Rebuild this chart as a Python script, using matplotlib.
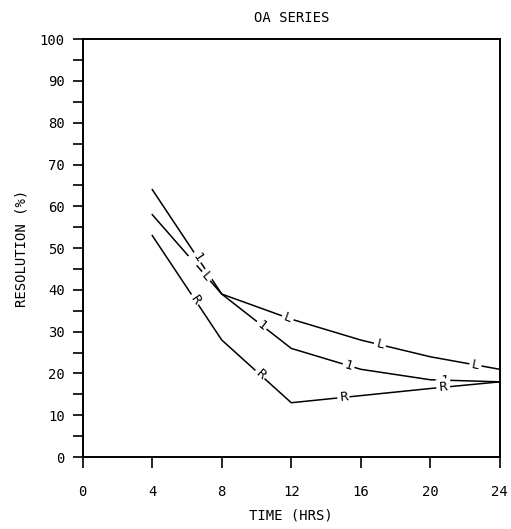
import numpy as np
import matplotlib.pyplot as plt
from matplotlib.ticker import MultipleLocator

plt.rcParams['font.family'] = ['DejaVu Sans Mono']

# data
hours = [4, 8, 12, 16, 20, 24]
series_1 = [64, 39, 26, 21, 18.5, 18]
series_L = [58, 39, 33, 28, 24, 21]
series_R = [53, 28, 13, 14.7, 16.4, 18]

# where the curve letters sit along each line (in hours)
marks_1 = [6.6, 10.3, 15.3, 20.8]
marks_L = [7.1, 11.8, 17.1, 22.6]
marks_R = [6.45, 10.2, 15.0, 20.7]

fig = plt.figure(figsize=(5.11, 5.29), dpi=100)
ax = fig.add_axes([0.162, 0.136, 0.816, 0.790])

ax.set_xlim(0, 24)
ax.set_ylim(0, 100)

def draw_curve(x, y, letter, marks):
    ax.plot(x, y, color='black', lw=1.1, zorder=2)
    for m in marks:
        ym = np.interp(m, x, y)
        # slope direction in pixels for rotating the letter
        p0 = ax.transData.transform((m - 0.3, np.interp(m - 0.3, x, y)))
        p1 = ax.transData.transform((m + 0.3, np.interp(m + 0.3, x, y)))
        ang = np.degrees(np.arctan2(p1[1] - p0[1], p1[0] - p0[0]))
        ax.text(m, ym, letter, rotation=ang, rotation_mode='anchor',
                ha='center', va='center', fontsize=9.5, zorder=3,
                bbox=dict(facecolor='white', edgecolor='none', pad=1.5))

draw_curve(hours, series_1, '1', marks_1)
draw_curve(hours, series_L, 'L', marks_L)
draw_curve(hours, series_R, 'R', marks_R)

ax.xaxis.set_major_locator(MultipleLocator(4))
ax.yaxis.set_major_locator(MultipleLocator(10))
ax.yaxis.set_minor_locator(MultipleLocator(5))
ax.tick_params(axis='x', direction='out', length=8, width=1.2, pad=12, labelsize=10)
ax.tick_params(axis='y', which='major', direction='out', length=7, width=1.2, pad=6, labelsize=10)
ax.tick_params(axis='y', which='minor', direction='out', length=7, width=1.2)
for s in ax.spines.values():
    s.set_linewidth(1.4)

ax.set_title('OA SERIES', fontsize=10, pad=12)
ax.set_xlabel('TIME (HRS)', fontsize=10, labelpad=7)
ax.set_ylabel('RESOLUTION (%)', fontsize=10, labelpad=8)

fig.savefig('out.png', dpi=100)
